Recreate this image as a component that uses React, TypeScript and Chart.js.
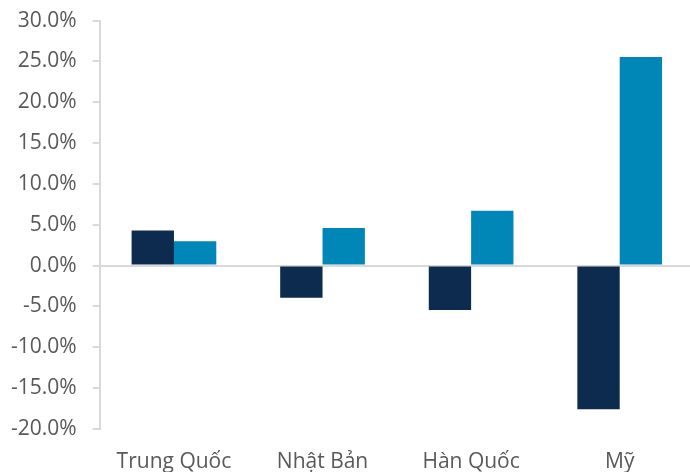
import React, { useEffect, useRef } from "react";
import { Chart, registerables } from "chart.js";

Chart.register(...registerables);

const categories = ["Trung Quốc", "Nhật Bản", "Hàn Quốc", "Mỹ"];
const seriesDark = [4.3, -3.95, -5.45, -17.6];
const seriesBlue = [2.97, 4.6, 6.7, 25.55];
const seriesNames = ["Chuỗi 1", "Chuỗi 2"];
const yMin = -20;
const yMax = 30;
const yStep = 5;

const GRID = "#d9d9d9";
const TEXT = "#595959";
const FONT = "'Open Sans', 'Noto Sans', sans-serif";

export default function App() {
  const ref = useRef<HTMLCanvasElement | null>(null);

  useEffect(() => {
    if (!ref.current) return;
    const chart = new Chart(ref.current, {
      type: "bar",
      data: {
        labels: categories,
        datasets: [
          {
            label: seriesNames[0],
            data: seriesDark,
            backgroundColor: "#0c2b4e",
            categoryPercentage: 0.57,
            barPercentage: 1.0,
          },
          {
            label: seriesNames[1],
            data: seriesBlue,
            backgroundColor: "#0087b8",
            categoryPercentage: 0.57,
            barPercentage: 1.0,
          },
        ],
      },
      options: {
        animation: false,
        responsive: false,
        maintainAspectRatio: false,
        layout: { padding: { left: 0, right: 7, top: 0, bottom: -10 } },
        plugins: {
          legend: { display: false },
          tooltip: { enabled: false },
        },
        scales: {
          x: {
            grid: { display: false },
            border: { display: false },
            ticks: {
              color: TEXT,
              font: { family: FONT, size: 21 },
              padding: 13,
            },
          },
          y: {
            min: yMin,
            max: yMax,
            border: { display: true, color: GRID, width: 2 },
            grid: {
              color: (ctx: any) => (ctx.tick && ctx.tick.value === 0 ? GRID : "rgba(0,0,0,0)"),
              lineWidth: 2,
              drawTicks: true,
              tickLength: 7,
              tickColor: GRID,
              tickWidth: 2,
            },
            ticks: {
              stepSize: yStep,
              color: TEXT,
              font: { family: FONT, size: 21 },
              padding: 16,
              callback: (v: any) => Number(v).toFixed(1) + "%",
            },
          },
        },
      },
    });
    return () => chart.destroy();
  }, []);

  return (
    <div
      style={{
        position: "fixed",
        left: 0,
        top: 0,
        width: 690,
        height: 472,
        overflow: "hidden",
        background: "#fff",
      }}
    >
      <canvas
        ref={ref}
        width={706}
        height={486}
        style={{ width: 706, height: 486, display: "block", marginLeft: -5, marginTop: -8 }}
      />
    </div>
  );
}
